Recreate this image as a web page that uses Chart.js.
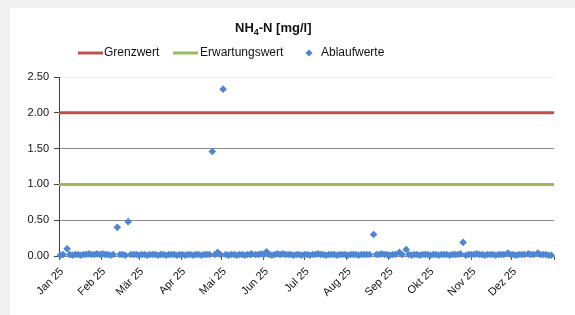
<!DOCTYPE html>
<html>
<head>
<meta charset="utf-8">
<script src="https://cdn.jsdelivr.net/npm/chart.js@4.4.1/dist/chart.umd.min.js"></script>
<style>
  body { margin: 0; background: #f0f0f0; }
  canvas { display: block; }
</style>
</head>
<body>
<canvas id="chart-nh4" width="575" height="315"></canvas>
<script>
//************ Daten */
const monate = ['Jan 25', 'Feb 25', 'Mär 25', 'Apr 25', 'Mai 25', 'Jun 25',
                'Jul 25', 'Aug 25', 'Sep 25', 'Okt 25', 'Nov 25', 'Dez 25'];
const monatsStart = [0, 31, 59, 90, 120, 151, 181, 212, 243, 273, 304, 334, 365];
const yTicks = [0, 0.5, 1.0, 1.5, 2.0, 2.5];

const jahrTage = [0, 365];
const grenzwert = [2.0, 2.0];
const erwartungswert = [1.0, 1.0];

// Tag im Jahr (0 = 1. Jan)
const messTage = [
    1, 3, 6, 8, 10, 12, 14, 16, 18, 20, 22, 24, 26, 28, 30,
    32, 34, 36, 38, 40, 43, 45, 47, 49, 51, 53, 55, 57,
    59, 61, 63, 65, 67, 69, 71, 73, 75, 77, 79, 81, 83, 85, 87, 89,
    91, 93, 95, 97, 99, 101, 103, 105, 107, 109, 111, 113, 115, 117, 119,
    121, 123, 125, 127, 129, 131, 133, 135, 137, 139, 141, 142, 145, 147, 149,
    151, 153, 155, 157, 159, 161, 163, 165, 167, 169, 171, 173, 175, 177, 179,
    181, 183, 185, 187, 189, 191, 193, 195, 197, 199, 201, 203, 205, 207, 209, 211,
    213, 215, 217, 219, 221, 223, 225, 227, 229, 232, 234, 236, 238, 240, 242,
    244, 246, 248, 251, 253, 256, 258, 260, 262, 264, 266, 268, 270, 272,
    274, 276, 278, 280, 282, 284, 286, 288, 290, 292, 294, 296, 298, 300, 302,
    304, 306, 308, 310, 312, 314, 316, 318, 320, 322, 324, 326, 328, 331, 333,
    335, 337, 339, 341, 343, 346, 348, 350, 353, 355, 357, 359, 361, 363
];
const ablaufwerte = [
    0.01, 0.02, 0.10, 0.02, 0.01, 0.02, 0.02, 0.01, 0.02, 0.02, 0.03, 0.02, 0.02, 0.03, 0.02,
    0.03, 0.02, 0.02, 0.01, 0.02, 0.40, 0.02, 0.02, 0.01, 0.48, 0.02, 0.02, 0.02,
    0.01, 0.02, 0.02, 0.01, 0.02, 0.02, 0.02, 0.01, 0.02, 0.02, 0.01, 0.02, 0.02, 0.02, 0.01, 0.02,
    0.02, 0.01, 0.02, 0.02, 0.01, 0.02, 0.02, 0.01, 0.02, 0.02, 0.02, 1.46, 0.02, 0.05, 0.02,
    2.33, 0.02, 0.01, 0.02, 0.02, 0.01, 0.02, 0.02, 0.01, 0.02, 0.02, 0.03, 0.02, 0.02, 0.03,
    0.02, 0.06, 0.02, 0.01, 0.02, 0.03, 0.02, 0.03, 0.02, 0.02, 0.02, 0.01, 0.02, 0.02, 0.01,
    0.02, 0.02, 0.01, 0.02, 0.02, 0.03, 0.02, 0.02, 0.01, 0.02, 0.02, 0.02, 0.01, 0.02, 0.02, 0.02,
    0.01, 0.02, 0.02, 0.02, 0.01, 0.02, 0.02, 0.02, 0.02, 0.30, 0.02, 0.02, 0.03, 0.02, 0.02,
    0.01, 0.02, 0.02, 0.05, 0.02, 0.09, 0.02, 0.01, 0.02, 0.02, 0.01, 0.02, 0.02, 0.02,
    0.01, 0.02, 0.02, 0.01, 0.02, 0.02, 0.02, 0.01, 0.02, 0.02, 0.02, 0.03, 0.19, 0.01, 0.02,
    0.02, 0.02, 0.03, 0.02, 0.02, 0.01, 0.02, 0.02, 0.02, 0.01, 0.02, 0.02, 0.02, 0.04, 0.02,
    0.02, 0.01, 0.02, 0.02, 0.02, 0.03, 0.02, 0.02, 0.04, 0.02, 0.02, 0.02, 0.01, 0.01
];

const rot = '#c0504d';
const gruen = '#9bbb59';
const blau = '#4f86d2';
const schrift = '"Liberation Sans", Arial, sans-serif';

function punkte(xs, ys) {
    return xs.map((x, i) => ({ x: x, y: ys[i] }));
}

//******** Hintergrund, Titel und Legende */
const rahmen = {
    id: 'rahmen',
    beforeDraw(chart) {
        const c = chart.ctx;
        c.save();
        c.fillStyle = '#f0f0f0';
        c.fillRect(0, 0, chart.width, chart.height);
        c.fillStyle = '#ffffff';
        c.fillRect(10, 8, chart.width - 10, chart.height - 8);
        c.restore();
    },
    afterDraw(chart) {
        const c = chart.ctx;
        c.save();
        c.fillStyle = '#111';
        c.textBaseline = 'alphabetic';
        // Titel NH4-N [mg/l] mit tiefgestellter 4
        let x = 235, y = 32;
        c.font = 'bold 13px ' + schrift;
        c.fillText('NH', x, y);
        x += c.measureText('NH').width;
        c.font = 'bold 9px ' + schrift;
        c.fillText('4', x, y + 3);
        x += c.measureText('4').width;
        c.font = 'bold 13px ' + schrift;
        c.fillText('-N [mg/l]', x, y);

        // Legende
        const ds = chart.data.datasets;
        const ly = 53;
        c.font = '12px ' + schrift;
        c.textBaseline = 'middle';
        c.lineWidth = 3;
        c.strokeStyle = ds[0].borderColor;
        c.beginPath(); c.moveTo(78, ly); c.lineTo(103, ly); c.stroke();
        c.fillStyle = '#111';
        c.fillText(ds[0].label, 104, ly);
        c.strokeStyle = ds[1].borderColor;
        c.beginPath(); c.moveTo(173, ly); c.lineTo(198, ly); c.stroke();
        c.fillStyle = '#111';
        c.fillText(ds[1].label, 200, ly);
        c.fillStyle = ds[2].backgroundColor;
        c.beginPath();
        c.moveTo(309, ly - 3.5); c.lineTo(312.5, ly); c.lineTo(309, ly + 3.5); c.lineTo(305.5, ly);
        c.closePath(); c.fill();
        c.fillStyle = '#111';
        c.fillText(ds[2].label, 321, ly);
        c.restore();
    }
};

var config = {
    type: 'scatter',
    data: {
        datasets: [{
            label: 'Grenzwert',
            data: punkte(jahrTage, grenzwert),
            showLine: true,
            borderColor: rot,
            borderWidth: 3,
            pointRadius: 0
        }, {
            label: 'Erwartungswert',
            data: punkte(jahrTage, erwartungswert),
            showLine: true,
            borderColor: gruen,
            borderWidth: 3,
            pointRadius: 0
        }, {
            label: 'Ablaufwerte',
            data: punkte(messTage, ablaufwerte),
            pointStyle: 'rectRot',
            pointRadius: 3.8,
            pointBorderWidth: 0,
            backgroundColor: blau,
            borderColor: blau,
            clip: false
        }]
    },
    options: {
        responsive: false,
        animation: false,
        layout: { padding: { left: 10, top: 77, right: 21, bottom: 0 } },
        plugins: {
            legend: { display: false },
            title: { display: false },
            tooltip: { enabled: false }
        },
        scales: {
            x: {
                type: 'linear',
                min: 0,
                max: 365,
                afterBuildTicks: (scale) => {
                    scale.ticks = monatsStart.map(v => ({ value: v }));
                },
                afterFit: (scale) => { scale.height = 59; },
                grid: {
                    drawOnChartArea: false,
                    drawTicks: true,
                    tickLength: 4,
                    tickColor: '#555'
                },
                border: { color: '#8c8c8c', width: 1 },
                ticks: {
                    autoSkip: false,
                    minRotation: 45,
                    maxRotation: 45,
                    padding: 5,
                    labelOffset: 3,
                    color: '#111',
                    font: { family: schrift, size: 11 },
                    callback: (v, i) => monate[i] || ''
                }
            },
            y: {
                min: 0,
                max: 2.5,
                afterBuildTicks: (scale) => {
                    scale.ticks = yTicks.map(v => ({ value: v }));
                },
                afterFit: (scale) => { scale.width = 49; },
                grid: {
                    color: (ctx) => ctx.tick && ctx.tick.value === 2.5 ? '#ececec' : '#8c8c8c',
                    tickColor: '#444',
                    tickLength: 5
                },
                border: { color: '#404040', width: 1 },
                ticks: {
                    padding: 5,
                    color: '#111',
                    font: { family: schrift, size: 11 },
                    callback: (v) => Number(v).toFixed(2)
                }
            }
        }
    },
    plugins: [rahmen]
};

var ctx_nh4 = document.getElementById('chart-nh4').getContext('2d');
var myChart_nh4 = new Chart(ctx_nh4, config);
</script>
</body>
</html>
